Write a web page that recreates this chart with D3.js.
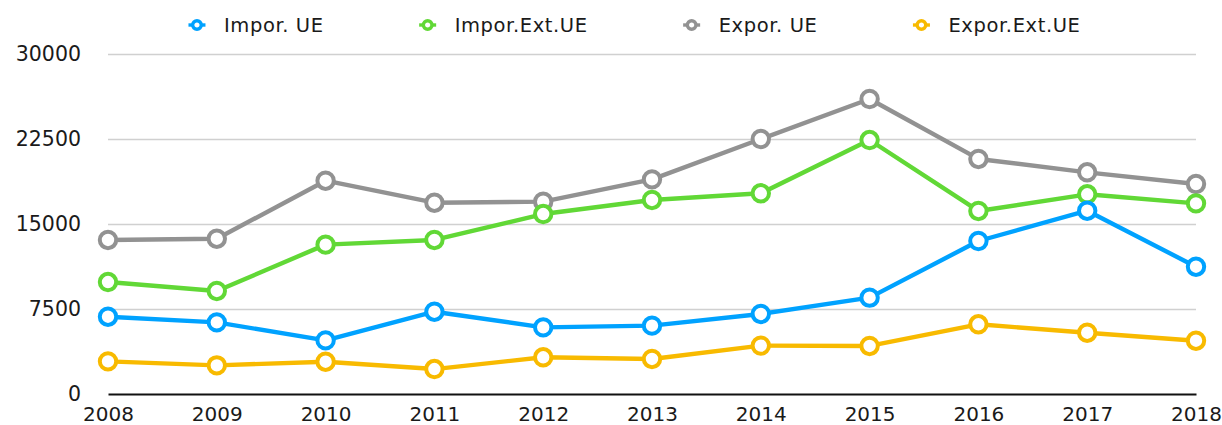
<!DOCTYPE html>
<html>
<head>
<meta charset="utf-8">
<script src="https://cdn.jsdelivr.net/npm/d3@7"></script>
<style>
  html, body { margin: 0; padding: 0; background: #fff; }
  svg { display: block; font-family: "DejaVu Sans", sans-serif; }
</style>
</head>
<body>
<svg id="chart" width="1222" height="425"></svg>
<script>
// ---- data ----
const years = ["2008","2009","2010","2011","2012","2013","2014","2015","2016","2017","2018"];
const seriesNames = ["Impor. UE", "Impor.Ext.UE", "Expor. UE", "Expor.Ext.UE"];
const imporUE    = [6820, 6320, 4730, 7260, 5880, 6030, 7060, 8500, 13500, 16170, 11230];
const imporExtUE = [9880, 9090, 13180, 13590, 15880, 17120, 17710, 22410, 16150, 17620, 16820];
const exporUE    = [13590, 13700, 18820, 16880, 16970, 18940, 22500, 26030, 20740, 19560, 18530];
const exporExtUE = [2880, 2530, 2850, 2200, 3240, 3090, 4270, 4240, 6150, 5410, 4700];
const yTicks = [0, 7500, 15000, 22500, 30000];
const colors = ["#00A2FF", "#61D836", "#929292", "#F8BA00"];

const seriesValues = [imporUE, imporExtUE, exporUE, exporExtUE];
const series = seriesNames.map((name, i) => ({ name, color: colors[i], values: seriesValues[i] }));

// ---- layout ----
const svg = d3.select("#chart");
const mLeft = 108, mRight = 1196, mTop = 54, mBottom = 394;

const x = d3.scalePoint().domain(years).range([mLeft, mRight]);
const y = d3.scaleLinear().domain([0, 30000]).range([mBottom, mTop]);

// y axis with gridlines
const yAxis = svg.append("g")
  .attr("transform", `translate(${mLeft},0)`)
  .call(d3.axisLeft(y).tickValues(yTicks).tickFormat(d3.format("d"))
        .tickSize(-(mRight - mLeft)).tickPadding(27));
yAxis.select(".domain").remove();
yAxis.selectAll(".tick line")
  .attr("stroke", d => d === 0 ? "none" : "#d0d0d0")
  .attr("stroke-width", 1.6);
yAxis.selectAll(".tick text")
  .attr("font-size", 20.5).attr("fill", "#1a1a1a")
  .attr("font-family", "DejaVu Sans, sans-serif");

// x axis
const xAxis = svg.append("g")
  .attr("transform", `translate(0,${mBottom})`)
  .call(d3.axisBottom(x).tickSize(0).tickPadding(13).tickSizeOuter(0));
xAxis.select(".domain").attr("stroke", "#111").attr("stroke-width", 2.2);
xAxis.selectAll(".tick text")
  .attr("font-size", 20).attr("fill", "#1a1a1a")
  .attr("font-family", "DejaVu Sans, sans-serif");

// lines and markers, drawn from last series to first
const line = d3.line().x((d, i) => x(years[i])).y(d => y(d));
series.slice().reverse().forEach(s => {
  const g = svg.append("g");
  g.append("path")
    .attr("d", line(s.values))
    .attr("fill", "none")
    .attr("stroke", s.color)
    .attr("stroke-width", 4.4)
    .attr("stroke-linejoin", "round");
  g.selectAll("circle")
    .data(s.values)
    .join("circle")
    .attr("cx", (d, i) => x(years[i]))
    .attr("cy", d => y(d))
    .attr("r", 8.2)
    .attr("fill", "#fff")
    .attr("stroke", s.color)
    .attr("stroke-width", 4);
});

// legend
const legend = svg.append("g");
const legY = 25;
const items = series.map(s => {
  const g = legend.append("g");
  g.append("line").attr("x1", -8.5).attr("x2", 8.5).attr("y1", 0).attr("y2", 0)
    .attr("stroke", s.color).attr("stroke-width", 3.4);
  g.append("circle").attr("r", 4.3).attr("fill", "#fff")
    .attr("stroke", s.color).attr("stroke-width", 3.4);
  const t = g.append("text").attr("x", 27).attr("y", 0).attr("dy", "0.35em")
    .attr("font-size", 19.5).attr("fill", "#1a1a1a").attr("letter-spacing", 0.6)
    .text(s.name);
  return { g, w: t.node().getComputedTextLength() };
});
let cursor = 0;
const pos = items.map(it => { const p = cursor; cursor += 27 + it.w + 104; return p; });
const totalW = cursor - 104 + 8.5;
const startX = 634.5 - totalW / 2 + 8.5;
items.forEach((it, i) => it.g.attr("transform", `translate(${startX + pos[i]},${legY})`));
</script>
</body>
</html>
